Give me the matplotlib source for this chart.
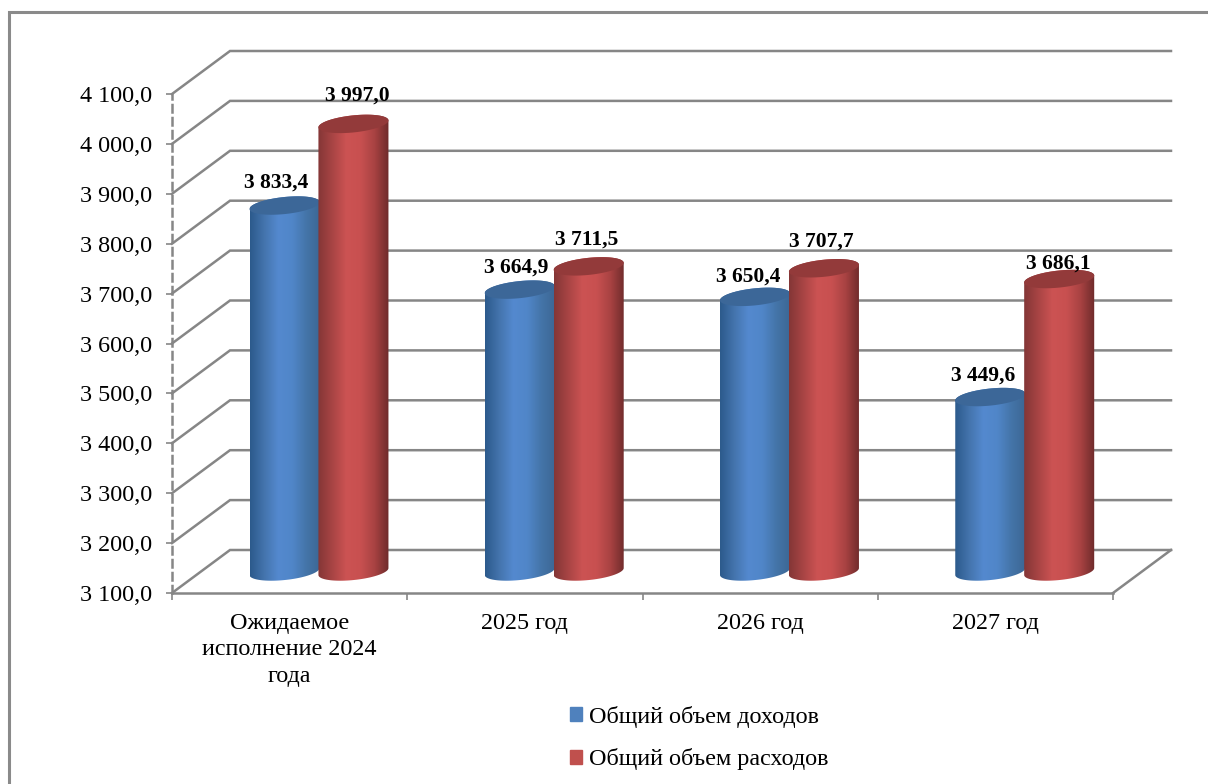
import numpy as np
import matplotlib
matplotlib.use('Agg')
import matplotlib.pyplot as plt
from matplotlib.colors import LinearSegmentedColormap
from matplotlib.patches import Patch, Rectangle, PathPatch
from matplotlib.path import Path

plt.rcParams['font.family'] = ['Liberation Serif', 'DejaVu Serif']

categories = ['Ожидаемое\nисполнение 2024\nгода', '2025 год', '2026 год', '2027 год']
incomes = [3833.4, 3664.9, 3650.4, 3449.6]
expenses = [3997.0, 3711.5, 3707.7, 3686.1]
yticks = [3100, 3200, 3300, 3400, 3500, 3600, 3700, 3800, 3900, 4000, 4100]
names = ['Общий объем доходов', 'Общий объем расходов']


def fmt(v):
    return f'{int(v) // 1000} {int(v) % 1000:03d},{int(round(v * 10)) % 10}'


W, H = 1208, 784
fig = plt.figure(figsize=(W / 100, H / 100), dpi=100)
ax = fig.add_axes([172 / W, (H - 593) / H, 941 / W, 499 / H])
ax.set_xlim(0, 4)
ax.set_ylim(3100, 4100)

# one pixel in data units, depth of the fake 3d box
px = 4 / 941
py = 1000 / 499
dx = 58 * px
dy = 43 * py
grey = '#868686'

for s in ['top', 'right']:
    ax.spines[s].set_visible(False)
ax.spines['left'].set_color(grey)
ax.spines['left'].set_linewidth(1.8)
ax.spines['left'].set_linestyle((0, (3, 2.2)))
ax.spines['bottom'].set_color(grey)
ax.spines['bottom'].set_linewidth(1.8)

ax.set_yticks(yticks)
ax.set_yticklabels([fmt(v) for v in yticks], fontsize=17.4)
ax.set_xticks(range(5))
ax.set_xticklabels([])
ax.set_xticks([i + 0.5 for i in range(4)], minor=True)
ax.set_xticklabels(categories, minor=True, fontsize=17.4, linespacing=1.33)
ax.tick_params(axis='y', length=4.5, width=1.2, color=grey, pad=10)
ax.tick_params(axis='x', which='major', length=5, width=1.2, color=grey)
ax.tick_params(axis='x', which='minor', length=0, pad=14.5)

# back wall lines
for v in yticks:
    ax.plot([0, dx, 4 + dx], [v, v + dy, v + dy], color=grey, lw=1.8,
            clip_on=False, zorder=1, solid_joinstyle='miter')
ax.plot([4, 4 + dx], [3100, 3100 + dy], color=grey, lw=1.8, clip_on=False, zorder=1)


def ring(cx, cy, t):
    # tilted ellipse, worked out in pixels then put back into data units
    a, b, tilt = 35.2, 8.5, np.radians(6)
    xp = a * np.cos(t) * np.cos(tilt) - b * np.sin(t) * np.sin(tilt)
    yp = a * np.cos(t) * np.sin(tilt) + b * np.sin(t) * np.cos(tilt)
    return cx + xp * px, cy + yp * py


def cylinder(x, value, stops, cap, z):
    cx = x + dx / 2
    base = 3100 + dy / 2
    top = value + dy / 2
    xb, yb = ring(cx, base, np.linspace(np.pi, 2 * np.pi, 60))
    xt, yt = ring(cx, top, np.linspace(0, np.pi, 60))
    verts = np.column_stack([np.r_[xb, xt], np.r_[yb, yt]])
    shape = PathPatch(Path(verts), transform=ax.transData, fc='none', ec='none')
    ax.add_patch(shape)
    cmap = LinearSegmentedColormap.from_list('c', stops)
    im = ax.imshow(np.linspace(0, 1, 200).reshape(1, -1), cmap=cmap, aspect='auto',
                   extent=(verts[:, 0].min(), verts[:, 0].max(), base - 12 * py, top + 12 * py),
                   zorder=z, interpolation='bilinear')
    im.set_clip_path(shape)
    xc, yc = ring(cx, top, np.linspace(0, 2 * np.pi, 120))
    ax.fill(xc, yc, color=cap, lw=0, zorder=z + 0.1, clip_on=False)


blue_stops = ['#2c5a8c', '#4474ad', '#5489cf', '#5086c8', '#4474a8', '#3c6694']
red_stops = ['#843636', '#a84444', '#cc5353', '#c85050', '#a84242', '#6e2b2b']
for i in range(4):
    cylinder(i + 0.355, incomes[i], blue_stops, '#3c6798', 3)
    cylinder(i + 0.648, expenses[i], red_stops, '#933a3a', 4)

ax.set_xlim(0, 4)
ax.set_ylim(3100, 4100)

# data labels, offset in pixels from the top of each cylinder
inc_off = [(-8, 23), (-4, 22), (-7, 20), (-7, 21)]
exp_off = [(4, 28), (-2, 27), (-3, 27), (-1, 15)]
for i in range(4):
    for x, v, off in [(i + 0.355, incomes[i], inc_off[i]), (i + 0.648, expenses[i], exp_off[i])]:
        ax.annotate(fmt(v), (x + dx / 2, v + dy / 2), xytext=(off[0] * 0.72, off[1] * 0.72),
                    textcoords='offset points', ha='center', va='center',
                    fontsize=15.5, fontweight='bold', zorder=6)

# outer chart frame runs off the right and bottom of the picture
fig.add_artist(Rectangle((9 / W, (H - 12) / H - 1), 1.2, 1, transform=fig.transFigure,
                         fc='none', ec='#8a8a8a', lw=2.2))

handles = [Patch(color='#4f81bd'), Patch(color='#c0504d')]
fig.legend(handles, names, loc='upper left', bbox_to_anchor=(560 / W, (H - 696) / H),
           frameon=False, fontsize=17.4, handlelength=0.5, handleheight=0.5,
           handletextpad=0.3, labelspacing=0.85, borderaxespad=0, borderpad=0.4)

fig.savefig('out.png', dpi=100)
